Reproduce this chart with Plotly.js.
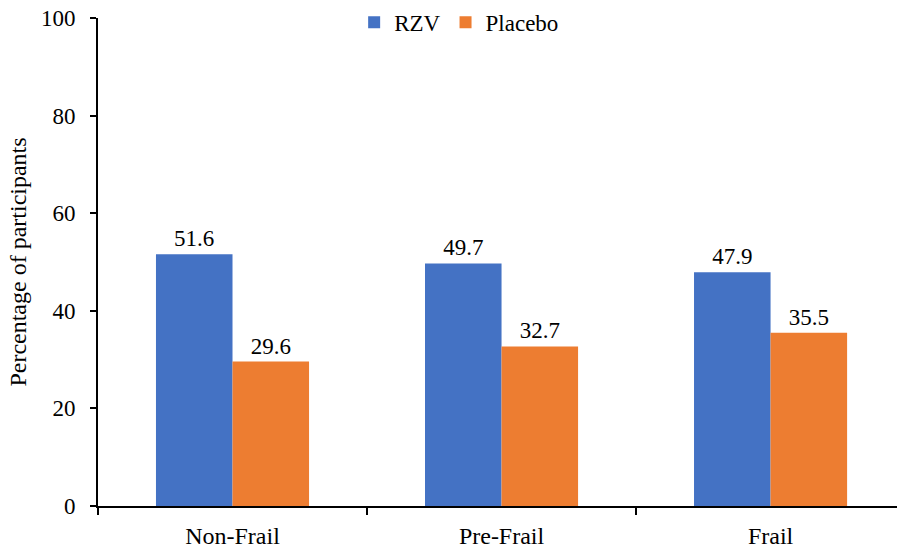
<!DOCTYPE html>
<html>
<head>
<meta charset="utf-8">
<script src="https://cdn.plot.ly/plotly-3.0.1.min.js"></script>
<style>html,body{margin:0;padding:0;background:#fff;}#chart{width:897px;height:555px;}</style>
</head>
<body>
<div id="chart"></div>
<script>
var categories = ["Non-Frail", "Pre-Frail", "Frail"];
var rzvValues = [51.6, 49.7, 47.9];
var placeboValues = [29.6, 32.7, 35.5];
var yTickValues = [0, 20, 40, 60, 80, 100];

var fam = "'Liberation Serif', 'Times New Roman', Times, serif";
function mkFont(size) { return {family: fam, size: size, color: "#000000"}; }

var traces = [
  {type: "bar", name: "RZV", x: categories, y: rzvValues,
   marker: {color: "#4472C4"}, texttemplate: "%{y:.1f}", textposition: "outside",
   textfont: mkFont(23), outsidetextfont: mkFont(23), cliponaxis: false, hoverinfo: "skip"},
  {type: "bar", name: "Placebo", x: categories, y: placeboValues,
   marker: {color: "#ED7D31"}, texttemplate: "%{y:.1f}", textposition: "outside",
   textfont: mkFont(23), outsidetextfont: mkFont(23), cliponaxis: false, hoverinfo: "skip"}
];

var layout = {
  width: 897, height: 555,
  margin: {l: 98, r: 0, t: 18, b: 49},
  paper_bgcolor: "#fff", plot_bgcolor: "#fff",
  font: mkFont(23),
  barmode: "group", bargap: 0.431, bargroupgap: 0,
  showlegend: true,
  legend: {orientation: "h", x: 0.452, xanchor: "center", y: 1.035, yanchor: "top",
           font: mkFont(23), bgcolor: "rgba(0,0,0,0)", itemwidth: 30},
  xaxis: {type: "category", range: [-0.5, 2.47], tickson: "boundaries",
          ticks: "outside", ticklen: 7, tickwidth: 2, tickcolor: "#000",
          showline: true, linecolor: "#000", linewidth: 2, showgrid: false,
          zeroline: false, tickfont: mkFont(24), ticklabelstandoff: 7, fixedrange: true},
  yaxis: {range: [0, 100], tickvals: yTickValues, ticks: "outside", ticklen: 6,
          tickwidth: 2, tickcolor: "#000", showline: true, linecolor: "#000",
          linewidth: 2, showgrid: false, zeroline: false, tickfont: mkFont(23),
          ticklabelstandoff: 10,
          title: {text: "Percentage of participants", standoff: 8, font: mkFont(24)},
          fixedrange: true}
};

Plotly.newPlot("chart", traces, layout, {staticPlot: true, displayModeBar: false});
</script>
</body>
</html>
